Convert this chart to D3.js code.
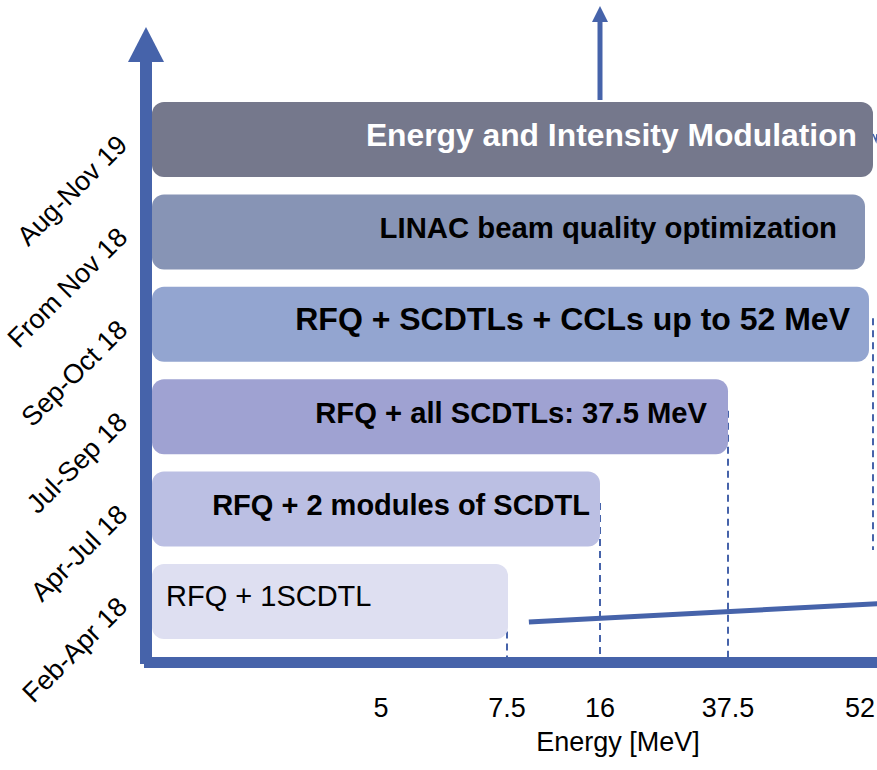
<!DOCTYPE html>
<html>
<head>
<meta charset="utf-8">
<script src="https://cdn.jsdelivr.net/npm/d3@7/dist/d3.min.js"></script>
<style>
  html, body { margin: 0; padding: 0; background: #fff; }
  svg { display: block; font-family: Arial, "Liberation Sans", sans-serif; }
</style>
</head>
<body>
<div id="chart"></div>
<script>
// data
const periods = ["Aug-Nov 19", "From Nov 18", "Sep-Oct 18", "Jul-Sep 18", "Apr-Jul 18", "Feb-Apr 18"];
const stages = [
  "Energy and Intensity Modulation",
  "LINAC beam quality optimization",
  "RFQ + SCDTLs + CCLs up to 52 MeV",
  "RFQ + all SCDTLs: 37.5 MeV",
  "RFQ + 2 modules of SCDTL",
  "RFQ + 1SCDTL"
];
const stageEnergy = [52, 52, 52, 37.5, 16, 7.5];
const energyTicks = [5, 7.5, 16, 37.5, 52];
const dropEnergies = [7.5, 16, 37.5, 52];
const beamLine = [{ energy: 9.5, level: 0.063 }, { energy: 53, level: 0.096 }];

// styles
const barFill = ["#75788c", "#8794b5", "#93a5d0", "#9fa2d2", "#bbbfe3", "#dedff1"];
const barFont = [31.8, 29.3, 32, 29.2, 29, 29];
const barEndShift = [4, -4, 0, 0, 0, 1];
const textPad = [16, 28, 19, 21, 10, 0];
const axisBlue = "#4663aa";

const W = 877, H = 770;
const axisX = 146, axisY = 662, barLeft = 152;

const svg = d3.select("#chart").append("svg")
  .attr("width", W)
  .attr("height", H);

const x = d3.scaleLinear()
  .domain(energyTicks)
  .range([381, 507, 600, 728, 869]);

const y = d3.scaleBand()
  .domain(periods)
  .range([102, 639])
  .paddingInner(0.188)
  .paddingOuter(0);

const yLevel = d3.scaleLinear().domain([0, 1]).range([657, 102]);

// dashed drop lines
svg.append("g").selectAll("line")
  .data(dropEnergies)
  .join("line")
  .attr("x1", d => x(d) + (d === 52 ? 4 : 0))
  .attr("x2", d => x(d) + (d === 52 ? 4 : 0))
  .attr("y1", d => y(periods[stageEnergy.indexOf(d) + (d === 52 ? 2 : 0)]) + y.bandwidth() / 2 - 6)
  .attr("y2", d => d === 52 ? 550 : 657)
  .attr("stroke", axisBlue)
  .attr("stroke-width", 2)
  .attr("stroke-dasharray", "7,5");

// bars
const bars = svg.append("g").selectAll("g")
  .data(periods)
  .join("g");

bars.append("rect")
  .attr("x", barLeft)
  .attr("y", d => y(d))
  .attr("width", (d, i) => x(stageEnergy[i]) + barEndShift[i] - barLeft)
  .attr("height", y.bandwidth())
  .attr("rx", 12)
  .attr("fill", (d, i) => barFill[i]);

bars.append("text")
  .attr("x", (d, i) => i === 5 ? 166 : x(stageEnergy[i]) + barEndShift[i] - textPad[i])
  .attr("y", (d, i) => y(d) + y.bandwidth() / 2 + (i === 5 ? 5 : 6))
  .attr("text-anchor", (d, i) => i === 5 ? "start" : "end")
  .attr("font-size", (d, i) => barFont[i])
  .attr("font-weight", (d, i) => i === 5 ? "normal" : "bold")
  .attr("fill", (d, i) => i === 0 ? "#fff" : "#000")
  .text((d, i) => stages[i]);

// beam line
svg.append("path")
  .datum(beamLine)
  .attr("fill", "none")
  .attr("stroke", axisBlue)
  .attr("stroke-width", 5)
  .attr("d", d3.line().x(d => x(d.energy)).y(d => yLevel(d.level)));

// top arrow
svg.append("line")
  .attr("x1", x(16)).attr("x2", x(16))
  .attr("y1", 100).attr("y2", 20)
  .attr("stroke", axisBlue)
  .attr("stroke-width", 5);
svg.append("path")
  .attr("d", `M${x(16) - 8},22 L${x(16)},6 L${x(16) + 8},22 Z`)
  .attr("fill", axisBlue);

// small arrow tip at the right edge of the top bar
svg.append("path")
  .attr("d", `M873,134 L876,141 L877,134`)
  .attr("fill", "none")
  .attr("stroke", axisBlue)
  .attr("stroke-width", 1.5);

// axes
svg.append("rect")
  .attr("x", axisX - 6).attr("y", 60)
  .attr("width", 12).attr("height", axisY - 60 + 2)
  .attr("fill", axisBlue);
svg.append("path")
  .attr("d", `M${axisX - 18},62 L${axisX},27 L${axisX + 18},62 Z`)
  .attr("fill", axisBlue);
svg.append("rect")
  .attr("x", axisX - 2).attr("y", 657)
  .attr("width", W - axisX + 2).attr("height", 11)
  .attr("fill", axisBlue);

// x tick labels
svg.append("g").selectAll("text")
  .data(energyTicks)
  .join("text")
  .attr("x", d => Math.min(x(d), W - 17))
  .attr("y", 717)
  .attr("text-anchor", "middle")
  .attr("font-size", 27)
  .attr("fill", "#000")
  .text(d => d);

svg.append("text")
  .attr("x", 618)
  .attr("y", 751)
  .attr("text-anchor", "middle")
  .attr("font-size", 27)
  .attr("fill", "#000")
  .text("Energy [MeV]");

// period labels
svg.append("g").selectAll("text")
  .data(periods)
  .join("text")
  .attr("transform", d => `translate(129,${y(d) + y.bandwidth() / 2 + 7}) rotate(-45)`)
  .attr("text-anchor", "end")
  .attr("font-size", 27)
  .attr("fill", "#000")
  .text(d => d);
</script>
</body>
</html>
